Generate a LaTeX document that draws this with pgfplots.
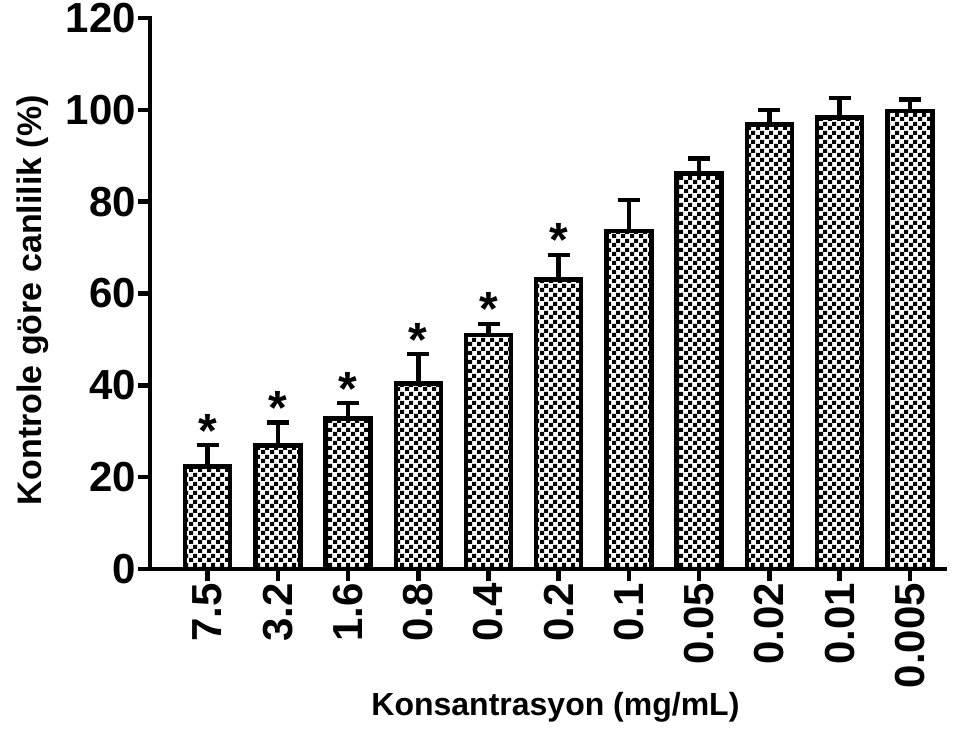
\documentclass[border=0pt]{standalone}
\usepackage{fontspec}
\setmainfont{Liberation Sans}
\usepackage{pgfplots}
\pgfplotsset{compat=1.18}
\usetikzlibrary{patterns.meta}
\tikzdeclarepattern{
  name=checker,
  type=uncolored,
  bounding box={(0pt,0pt) and (9pt,9pt)},
  tile size={(9pt,9pt)},
  code={
    \fill (0pt,0pt) rectangle (4.6pt,4.6pt);
    \fill (4.5pt,4.5pt) rectangle (9.1pt,9.1pt);
  }
}
\begin{document}
\begin{tikzpicture}
\begin{axis}[
  at={(0,0)}, anchor=south west,
  scale only axis,
  width=795pt, height=551pt,
  xmin=-0.82, xmax=10.5,
  ymin=0, ymax=120,
  clip=false,
  axis x line=bottom, axis y line=left,
  axis line style={-, line width=4.5pt, line cap=rect},
  xtick={0,...,10},
  xticklabels={7.5,3.2,1.6,0.8,0.4,0.2,0.1,0.05,0.02,0.01,0.005},
  ytick={0,20,...,120},
  tick align=outside,
  major tick length=12pt,
  every tick/.style={black, line width=4.5pt},
  /pgf/number format/assume math mode=true,
  ticklabel style={font=\bfseries\fontsize{42}{42}\selectfont},
  xticklabel style={rotate=90, anchor=east, inner sep=2pt},
  yticklabel style={inner sep=2pt},
  xlabel={Konsantrasyon (mg/mL)},
  ylabel={Kontrole göre canlilik (\%)},
  xlabel style={font=\bfseries\fontsize{32}{32}\selectfont, at={(axis description cs:0.51,0)}, anchor=center, yshift=-138pt},
  ylabel style={font=\bfseries\fontsize{34}{34}\selectfont, at={(axis description cs:-0.148,0.488)}, anchor=center, rotate=0},
]
\addplot[ybar, bar width=45pt, draw=black, line width=4.5pt, pattern=checker, pattern color=black,
  error bars/.cd, y dir=plus, y explicit,
  error bar style={line width=4.5pt, black},
  error mark options={rotate=90, mark size=11pt, line width=4.5pt, black}]
  coordinates {
  (0,22.3) +- (0,4.7)
  (1,26.9) +- (0,5.0)
  (2,32.8) +- (0,3.3)
  (3,40.4) +- (0,6.4)
  (4,51.0) +- (0,2.4)
  (5,63.0) +- (0,5.4)
  (6,73.6) +- (0,6.8)
  (7,86.1) +- (0,3.3)
  (8,96.8) +- (0,3.2)
  (9,98.3) +- (0,4.3)
  (10,99.8) +- (0,2.4)
  };
\addplot[draw=none, mark=none, nodes near coords={\bfseries\fontsize{48}{48}\selectfont *},
  every node near coord/.append style={anchor=base, yshift=-2pt, inner sep=0pt}]
  coordinates {(0,27.0) (1,31.9) (2,36.1) (3,46.8) (4,53.4) (5,68.4)};
\end{axis}
\pgfresetboundingbox
\path[use as bounding box] (-150pt,-173pt) rectangle (814pt,569pt);
\end{tikzpicture}
\end{document}
